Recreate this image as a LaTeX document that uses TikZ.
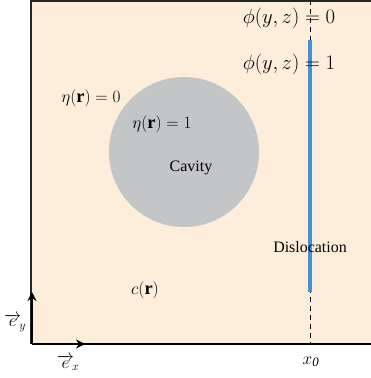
\documentclass[tikz,border=0pt]{standalone}
\usepackage{fontspec}
\setmainfont{Liberation Serif}
\usetikzlibrary{arrows.meta,positioning}
\usepackage{xcolor}
\definecolor{fondo}{RGB}{252,238,218}
\definecolor{cavidad}{RGB}{196,197,199}
\definecolor{disloc}{RGB}{72,144,214}

\begin{document}
\begin{tikzpicture}[x=1bp, y=-1bp,
  etiq/.style={inner sep=0pt, font=\fontsize{16}{16}\selectfont},
  mat/.style={inner sep=0pt, font=\fontsize{18.5}{18.5}\selectfont},
  matg/.style={inner sep=0pt, font=\fontsize{20.5}{20.5}\selectfont},
  eje/.style={line width=2.6pt, -{Stealth[length=9bp, width=9bp]}},
  borde/.style={line width=1.3pt, black!85}
]
\useasboundingbox (0,0) rectangle (371,378);
% caja
\fill[fondo] (31,1) rectangle (371,344);
\draw[borde] (31,344) -- (31,1) -- (371,1);
% cavidad
\node[circle, fill=cavidad, minimum size=150bp, inner sep=0pt] (cav) at (184,152) {};
\node[etiq] (cavtxt) at (191,168) {Cavity};
% linea de dislocacion
\coordinate (dtop) at (310,0);
\coordinate (dbot) at (310,344);
\coordinate (btop) at (310,40);
\coordinate (bbot) at (310,292);
\draw[dashed, line width=0.9pt, dash pattern=on 5bp off 4bp] (dtop) -- (dbot);
\draw[disloc, line width=4.5bp] (btop) -- (bbot);
\node[etiq] (distxt) at (310,247) {Dislocation};
% etiquetas
\node[matg] (phi0) at (289,18) {$\phi(y,z) = 0$};
\node[matg] (phi1) at (289,64) {$\phi(y,z) = 1$};
\node[mat] (eta0) at (91,98) {$\eta(\mathbf{r}) = 0$};
\node[mat] (eta1) at (162,124) {$\eta(\mathbf{r}) = 1$};
\node[mat] (conc) at (145,290) {$c(\mathbf{r})$};
% ejes
\coordinate (o) at (32,344);
\coordinate (ey) at (32,292);
\coordinate (ex) at (85,344);
\coordinate (fin) at (371,344);
\draw[line width=2.6pt] (o) -- (fin);
\draw[eje] (o) -- (ey);
\draw[eje] (o) -- (ex);
\node[mat] (eytxt) at (15,323) {$\overrightarrow{e}_{\!y}$};
\node[mat] (extxt) at (68,363) {$\overrightarrow{e}_{\!x}$};
\node[mat] (x0) at (311,362) {$x_{\mathit{0}}$};
\end{tikzpicture}
\end{document}
